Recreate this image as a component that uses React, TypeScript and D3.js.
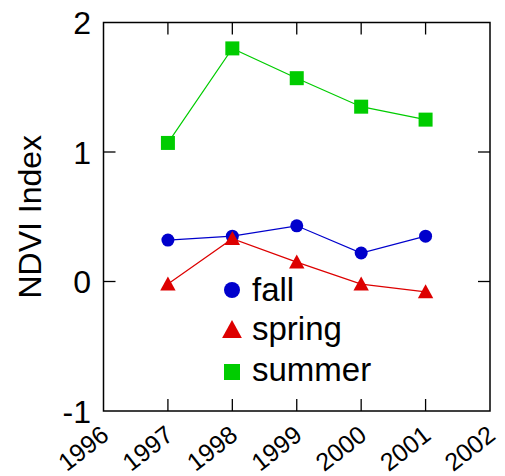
import React from "react";
import * as d3 from "d3";

const years = [1997, 1998, 1999, 2000, 2001];
const fall = [0.32, 0.35, 0.43, 0.22, 0.35];
const spring = [-0.02, 0.33, 0.15, -0.02, -0.08];
const summer = [1.07, 1.8, 1.57, 1.35, 1.25];
const xTickLabels = ["1996", "1997", "1998", "1999", "2000", "2001", "2002"];
const yTickValues = [-1, 0, 1, 2];
const seriesNames = ["fall", "spring", "summer"];

const W = 505;
const H = 476;
const M = { left: 103.5, right: 490, top: 22.5, bottom: 411 };
const FONT = "'Liberation Sans', Arial, Helvetica, sans-serif";

const BLUE = "#0000cc";
const RED = "#dd0000";
const GREEN = "#00cc00";

export default function App() {
  const x = d3.scaleLinear().domain([1996, 2002]).range([M.left, M.right]);
  const y = d3.scaleLinear().domain([-1, 2]).range([M.bottom, M.top]);
  const line = d3
    .line<[number, number]>()
    .x((d) => x(d[0]))
    .y((d) => y(d[1]));

  const pts = (vals: number[]) => years.map((yr, i) => [yr, vals[i]] as [number, number]);
  const tickLen = 12;
  const sq = 14;
  const tri = (cx: number, cy: number, s: number) =>
    `M${cx},${cy - s * 0.55}L${cx + s * 0.55},${cy + s * 0.45}L${cx - s * 0.55},${cy + s * 0.45}Z`;

  const innerYears = xTickLabels.map(Number).filter((v) => v > 1996 && v < 2002);
  const innerY = yTickValues.filter((v) => v > -1 && v < 2);

  const legendColors = [BLUE, RED, GREEN];
  const legendMarkerY = [290, 330, 372];
  const legendTextY = [301, 340, 381];

  return (
    <svg width={W} height={H} style={{ position: "absolute", left: 0, top: 0, background: "#fff" }}>
      {/* frame */}
      <rect
        x={M.left}
        y={M.top}
        width={M.right - M.left}
        height={M.bottom - M.top}
        fill="none"
        stroke="#000"
        strokeWidth={1.5}
      />
      {/* inward ticks */}
      {innerYears.map((v) => (
        <g key={"xt" + v} stroke="#000" strokeWidth={1.3}>
          <line x1={x(v)} x2={x(v)} y1={M.bottom} y2={M.bottom - tickLen} />
          <line x1={x(v)} x2={x(v)} y1={M.top} y2={M.top + tickLen} />
        </g>
      ))}
      {innerY.map((v) => (
        <g key={"yt" + v} stroke="#000" strokeWidth={1.3}>
          <line x1={M.left} x2={M.left + tickLen} y1={y(v)} y2={y(v)} />
          <line x1={M.right} x2={M.right - tickLen} y1={y(v)} y2={y(v)} />
        </g>
      ))}
      {/* y tick labels */}
      {yTickValues.map((v) => (
        <text
          key={"yl" + v}
          x={91}
          y={y(v) + 11.5}
          textAnchor="end"
          fontFamily={FONT}
          fontSize={32}
          fill="#000"
        >
          {v}
        </text>
      ))}
      {/* x tick labels */}
      {xTickLabels.map((lab) => (
        <text
          key={"xl" + lab}
          transform={`translate(${x(Number(lab)) + 7},${M.bottom + 27}) rotate(-38)`}
          textAnchor="end"
          fontFamily={FONT}
          fontSize={25}
          fill="#000"
        >
          {lab}
        </text>
      ))}
      {/* y axis title */}
      <text
        transform={`translate(41,${(M.top + M.bottom) / 2}) rotate(-90)`}
        textAnchor="middle"
        fontFamily={FONT}
        fontSize={32}
        fill="#000"
      >
        NDVI Index
      </text>

      {/* series lines */}
      <path d={line(pts(summer)) ?? ""} fill="none" stroke={GREEN} strokeWidth={1.2} />
      <path d={line(pts(fall)) ?? ""} fill="none" stroke={BLUE} strokeWidth={1.2} />
      <path d={line(pts(spring)) ?? ""} fill="none" stroke={RED} strokeWidth={1.2} />

      {/* markers */}
      {pts(summer).map(([a, b]) => (
        <rect key={"s" + a} x={x(a) - sq / 2} y={y(b) - sq / 2} width={sq} height={sq} fill={GREEN} />
      ))}
      {pts(fall).map(([a, b]) => (
        <circle key={"f" + a} cx={x(a)} cy={y(b)} r={6.5} fill={BLUE} />
      ))}
      {pts(spring).map(([a, b]) => (
        <path key={"p" + a} d={tri(x(a), y(b), 14)} fill={RED} />
      ))}

      {/* legend */}
      <circle cx={232} cy={legendMarkerY[0]} r={8} fill={legendColors[0]} />
      <path d={tri(232, legendMarkerY[1], 18)} fill={legendColors[1]} />
      <rect x={224} y={legendMarkerY[2] - 8} width={16} height={16} fill={legendColors[2]} />
      {seriesNames.map((n, i) => (
        <text key={n} x={252} y={legendTextY[i]} fontFamily={FONT} fontSize={33} fill="#000">
          {n}
        </text>
      ))}
    </svg>
  );
}
